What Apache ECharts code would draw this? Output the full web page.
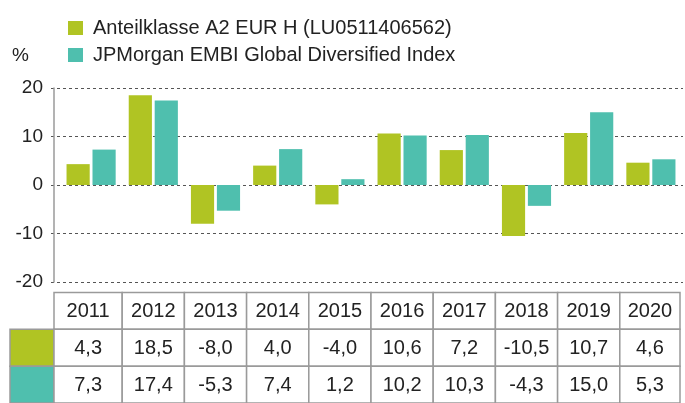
<!DOCTYPE html>
<html>
<head>
<meta charset="utf-8">
<script src="https://cdn.jsdelivr.net/npm/echarts@6/dist/echarts.min.js"></script>
<style>
html,body{margin:0;padding:0;background:#fff;}
#c{width:685px;height:403px;}
</style>
</head>
<body>
<div id="c"></div>
<script>
const years = ['2011','2012','2013','2014','2015','2016','2017','2018','2019','2020'];
const seriesNames = ['Anteilklasse A2 EUR H (LU0511406562)', 'JPMorgan EMBI Global Diversified Index'];
const fundValues = [4.3, 18.5, -8.0, 4.0, -4.0, 10.6, 7.2, -10.5, 10.7, 4.6];
const indexValues = [7.3, 17.4, -5.3, 7.4, 1.2, 10.2, 10.3, -4.3, 15.0, 5.3];
const yTicks = [-20, -10, 0, 10, 20];
const unitLabel = '%';

const colors = ['#b0c423', '#4fbfae'];
const FONT = 'Liberation Sans, Arial, Helvetica, sans-serif';
const fmt = v => v.toFixed(1).replace('.', ',');

const rowsText = [years, fundValues.map(fmt), indexValues.map(fmt)];
const tableData = [];
rowsText.forEach((row, r) => row.forEach((t, c) => tableData.push([c, r, t])));

const chart = echarts.init(document.getElementById('c'), null, {renderer: 'canvas'});
chart.setOption({
  animation: false,
  textStyle: {fontFamily: FONT},
  title: {text: unitLabel, left: 12, top: 46, padding: 0, textStyle: {fontFamily: FONT, fontSize: 19, fontWeight: 'normal', color: '#222'}},
  legend: {
    orient: 'vertical', left: 68, top: 18, padding: 0, itemGap: 7, itemWidth: 15, itemHeight: 14,
    icon: 'rect', data: seriesNames,
    textStyle: {fontFamily: FONT, fontSize: 20, color: '#222', padding: [0, 0, 0, 5]}
  },
  grid: [
    {left: 60, right: 3, top: 88, bottom: 121},
    {left: 51, right: 2, top: 88, bottom: 121},
    {left: 60, right: 3, top: 292.5, height: 114}
  ],
  xAxis: [
    {gridIndex: 0, type: 'category', data: years, show: false},
    {gridIndex: 1, type: 'value', min: 0, max: 1, show: false},
    {gridIndex: 2, type: 'category', data: years, show: false}
  ],
  yAxis: [
    {gridIndex: 0, type: 'value', min: yTicks[0], max: yTicks[yTicks.length-1], interval: 10, offset: 6,
     axisLine: {show: true, lineStyle: {color: '#9a9a9a', width: 1.5}},
     axisTick: {show: false}, splitLine: {show: false},
     axisLabel: {fontFamily: FONT, fontSize: 19, color: '#222', margin: 11}},
    {gridIndex: 1, type: 'value', min: yTicks[0], max: yTicks[yTicks.length-1], interval: 10,
     axisLine: {show: false}, axisTick: {show: false}, axisLabel: {show: false},
     splitLine: {show: true, lineStyle: {color: '#555', type: [3, 3], width: 1}}},
    {gridIndex: 2, type: 'category', data: ['h', 'a', 'b'], inverse: true, show: false}
  ],
  series: [
    {name: seriesNames[0], type: 'bar', xAxisIndex: 0, yAxisIndex: 0, data: fundValues,
     itemStyle: {color: colors[0]}, barGap: '12%', barCategoryGap: '21%'},
    {name: seriesNames[1], type: 'bar', xAxisIndex: 0, yAxisIndex: 0, data: indexValues,
     itemStyle: {color: colors[1]}, barGap: '12%', barCategoryGap: '21%'},
    {type: 'custom', xAxisIndex: 2, yAxisIndex: 2, data: tableData, clip: false, silent: true,
     renderItem: function (params, api) {
       const col = api.value(0), row = api.value(1);
       const c = api.coord([col, row]);
       const s = api.size([1, 1]);
       let x0 = c[0] - s[0] / 2, w = s[0];
       if (col === 0) { x0 -= 6; w += 6; }
       if (col === years.length - 1) { w -= 2; }
       const y0 = c[1] - s[1] / 2, h = s[1];
       const children = [
         {type: 'rect', shape: {x: x0, y: y0, width: w, height: h},
          style: {fill: '#fff', stroke: '#9a9a9a', lineWidth: 1.5}},
         {type: 'text', style: {text: tableData[params.dataIndex][2], x: x0 + w / 2, y: y0 + h / 2 + 1,
          align: 'center', verticalAlign: 'middle', fontFamily: FONT, fontSize: 20, fill: '#222'}}
       ];
       if (col === 0 && row > 0) {
         children.unshift({type: 'rect', shape: {x: 10, y: y0, width: x0 - 10, height: h},
           style: {fill: colors[row - 1], stroke: '#9a9a9a', lineWidth: 1.5}});
       }
       return {type: 'group', children: children};
     }}
  ]
});
</script>
</body>
</html>
